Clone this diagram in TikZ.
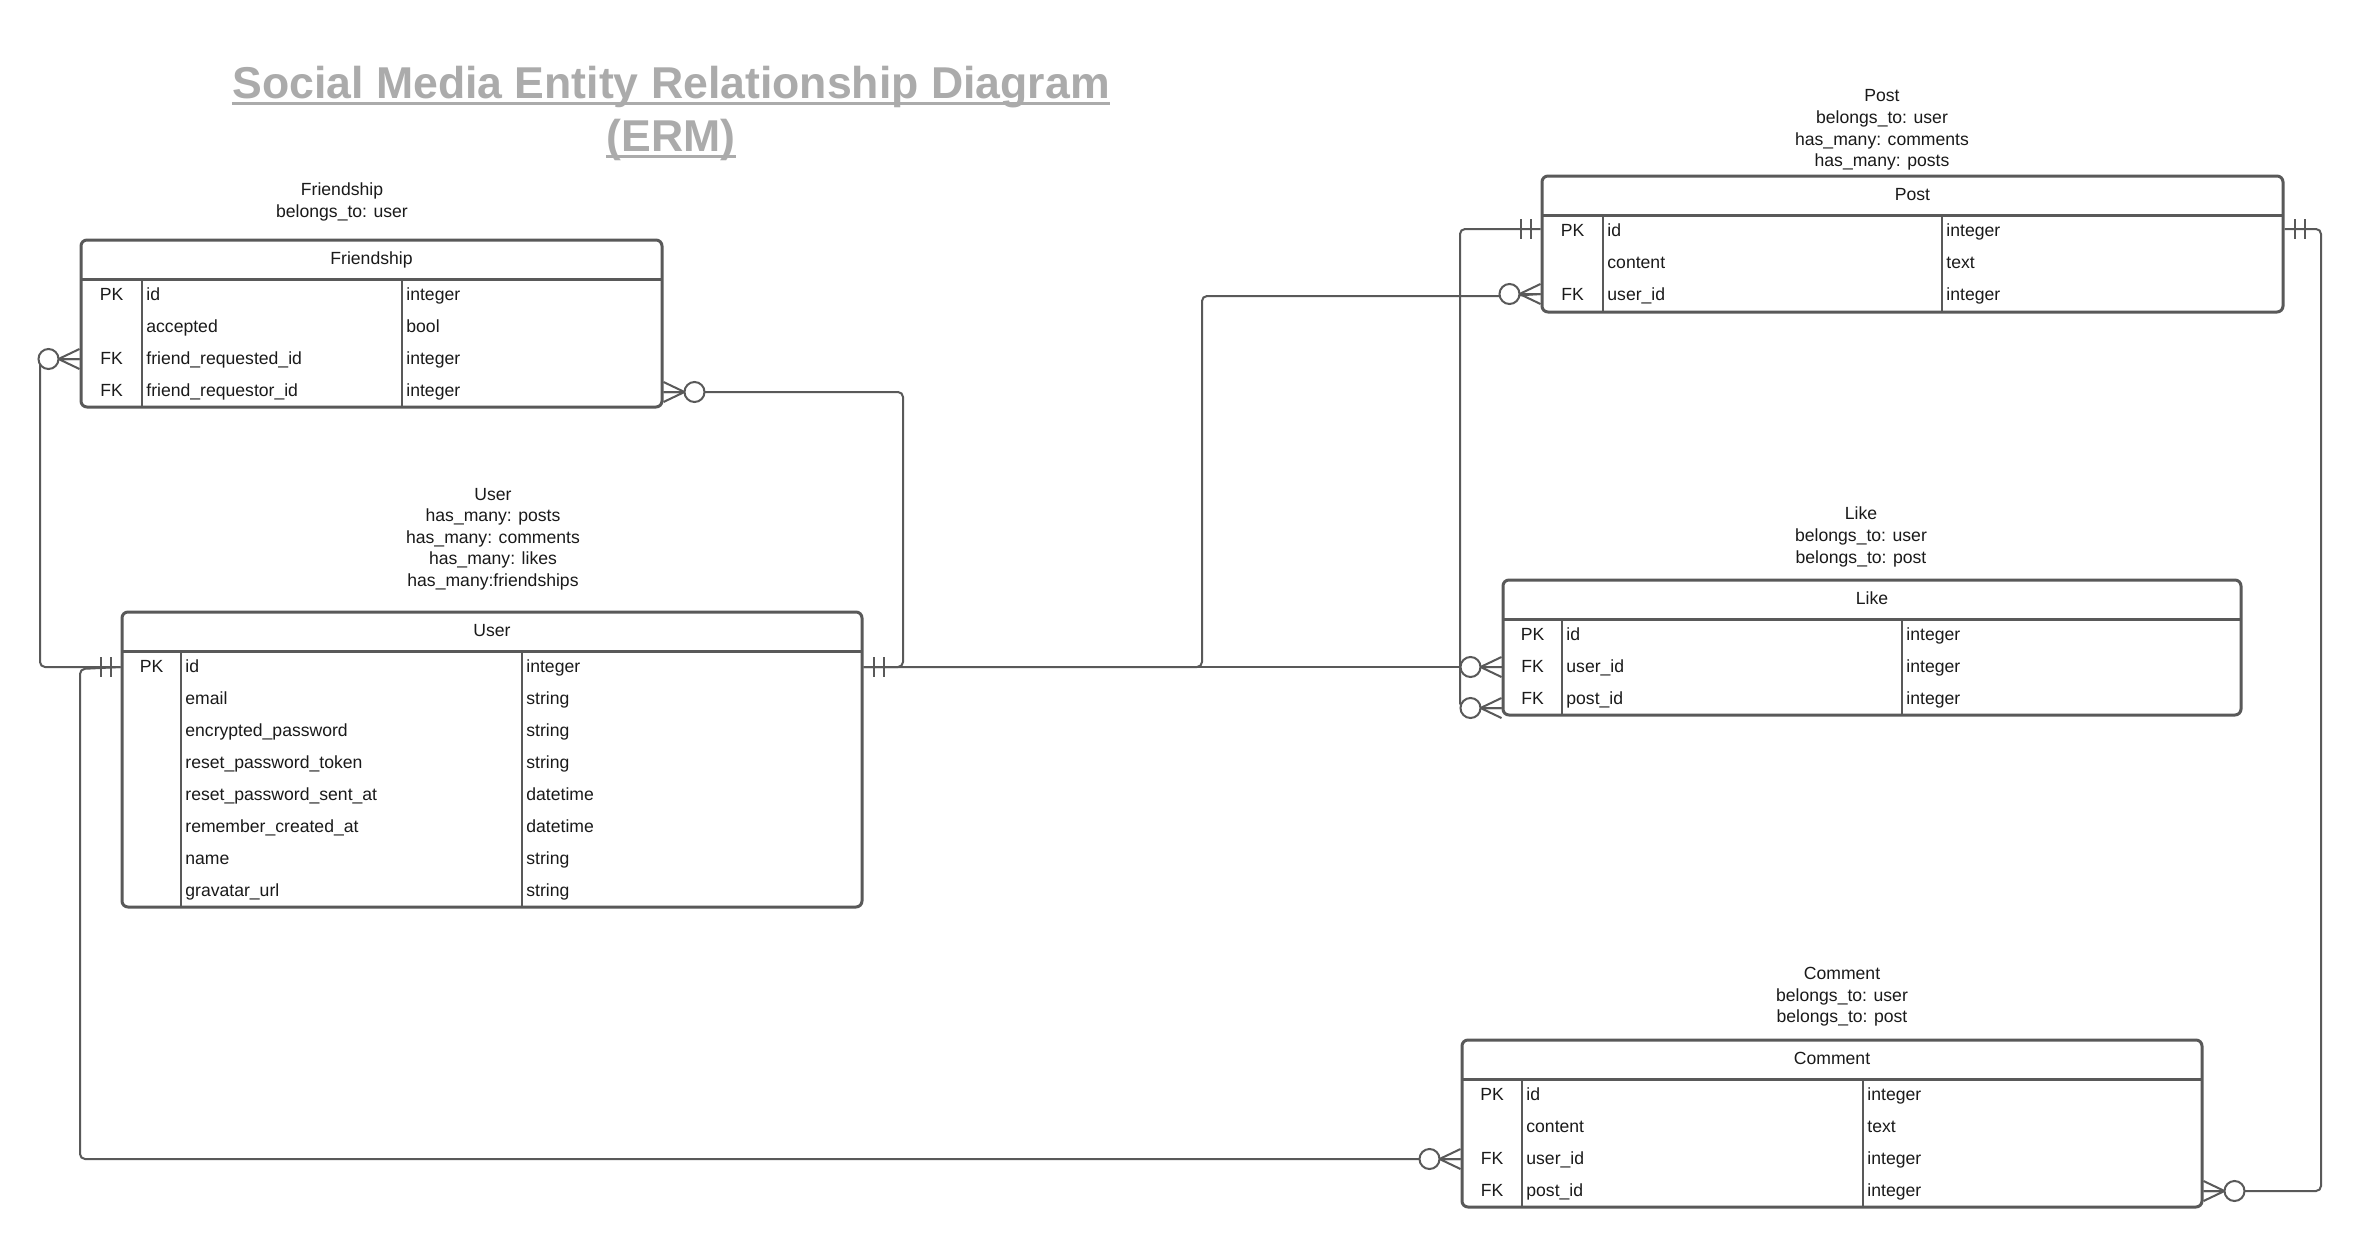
\documentclass[tikz,border=0pt]{standalone}
\usepackage{fontspec}
\setmainfont{Liberation Sans}
\definecolor{lc}{HTML}{595959}
\definecolor{tc}{HTML}{1A1A1A}
\definecolor{ttl}{HTML}{ABABAB}
\tikzset{
  tbl/.style={draw=lc, line width=1.5pt, rounded corners=3pt, inner sep=0pt, fill=white},
  sep/.style={draw=lc, line width=1.5pt},
  div/.style={draw=lc, line width=1.1pt},
  conn/.style={draw=lc, line width=1pt},
  cell/.style={font=\fontsize{8.8}{10}\selectfont, text=tc, inner sep=0pt},
  lbl/.style={font=\fontsize{8.8}{10.8}\selectfont, text=tc, inner sep=0pt, align=center},
  zmany/.pic={\draw[conn] (0,-10) -- (21,0) -- (0,10) (0,0) -- (21,0);
              \draw[conn, fill=white] (31,0) circle[radius=10];},
  onlyone/.pic={\draw[conn] (10,-10) -- (10,10) (20,-10) -- (20,10);}
}
\begin{document}
\begin{tikzpicture}[x=0.5pt,y=-0.5pt]
\useasboundingbox[fill=white] (0,0) rectangle (2363,1248);

% ---------- title ----------
\node[anchor=base, font=\fontsize{22.3}{27}\selectfont\bfseries, text=ttl, inner sep=0pt] (title1) at (671,98) {Social Media Entity Relationship Diagram};
\node[anchor=base, font=\fontsize{22.3}{27}\selectfont\bfseries, text=ttl, inner sep=0pt] (title2) at (671,151) {(ERM)};
\draw[ttl, line width=1.5pt] ([yshift=-2.7pt]title1.base west) -- ([yshift=-2.7pt]title1.base east);
\draw[ttl, line width=1.5pt] ([yshift=-2.7pt]title2.base west) -- ([yshift=-2.7pt]title2.base east);

% ---------- labels ----------
\node[lbl] (fsLabel) at (342,202) {Friendship\\belongs\_to: user};
\node[lbl] (uLabel) at (493,539) {User\\has\_many: posts\\has\_many: comments\\has\_many: likes\\has\_many:friendships};
\node[lbl] (pLabel) at (1882,130) {Post\\belongs\_to: user\\has\_many: comments\\has\_many: posts};
\node[lbl] (lLabel) at (1861,537) {Like\\belongs\_to: user\\belongs\_to: post};
\node[lbl] (cLabel) at (1842,997) {Comment\\belongs\_to: user\\belongs\_to: post};

% ---------- Friendship ----------
\node[tbl, minimum width=290.5pt, minimum height=83.5pt] (friendship) at (371.5,323.5) {};
\node[cell, anchor=mid] (fsHead) at (371.5,259.5) {Friendship};
\draw[sep] (81,279) -- (662,279);
\draw[div] (142,279) -- (142,407) (402,279) -- (402,407);
\foreach \k/\n/\t [count=\i from 0] in {PK/id/integer, /accepted/bool, FK/friend\_requested\_id/integer, FK/friend\_requestor\_id/integer}{
  \node[cell, anchor=mid] (fsK\i) at (111.5,295+32*\i) {\k};
  \node[cell, anchor=mid west] (fsN\i) at (146,295+32*\i) {\n};
  \node[cell, anchor=mid west] (fsT\i) at (406,295+32*\i) {\t};
}

% ---------- User ----------
\node[tbl, minimum width=370pt, minimum height=147.5pt] (user) at (492,759.5) {};
\node[cell, anchor=mid] (uHead) at (492,631.5) {User};
\draw[sep] (122,651) -- (862,651);
\draw[div] (181,651) -- (181,907) (522,651) -- (522,907);
\foreach \k/\n/\t [count=\i from 0] in {PK/id/integer, /email/string, /encrypted\_password/string, /reset\_password\_token/string, /reset\_password\_sent\_at/datetime, /remember\_created\_at/datetime, /name/string, /gravatar\_url/string}{
  \node[cell, anchor=mid] (uK\i) at (151.5,667+32*\i) {\k};
  \node[cell, anchor=mid west] (uN\i) at (185,667+32*\i) {\n};
  \node[cell, anchor=mid west] (uT\i) at (526,667+32*\i) {\t};
}

% ---------- Post ----------
\node[tbl, minimum width=370.5pt, minimum height=68pt] (post) at (1912.5,244) {};
\node[cell, anchor=mid] (pHead) at (1912.5,195.5) {Post};
\draw[sep] (1542,215) -- (2283,215);
\draw[div] (1603,215) -- (1603,312) (1942,215) -- (1942,312);
\foreach \k/\n/\t [count=\i from 0] in {PK/id/integer, /content/text, FK/user\_id/integer}{
  \node[cell, anchor=mid] (pK\i) at (1572.5,231+32*\i) {\k};
  \node[cell, anchor=mid west] (pN\i) at (1607,231+32*\i) {\n};
  \node[cell, anchor=mid west] (pT\i) at (1946,231+32*\i) {\t};
}

% ---------- Like ----------
\node[tbl, minimum width=369pt, minimum height=67.5pt] (like) at (1872,647.5) {};
\node[cell, anchor=mid] (lHead) at (1872,599.5) {Like};
\draw[sep] (1503,619) -- (2241,619);
\draw[div] (1562,619) -- (1562,715) (1902,619) -- (1902,715);
\foreach \k/\n/\t [count=\i from 0] in {PK/id/integer, FK/user\_id/integer, FK/post\_id/integer}{
  \node[cell, anchor=mid] (lK\i) at (1532.5,635+32*\i) {\k};
  \node[cell, anchor=mid west] (lN\i) at (1566,635+32*\i) {\n};
  \node[cell, anchor=mid west] (lT\i) at (1906,635+32*\i) {\t};
}

% ---------- Comment ----------
\node[tbl, minimum width=370pt, minimum height=83.5pt] (comment) at (1832,1123.5) {};
\node[cell, anchor=mid] (cHead) at (1832,1059.5) {Comment};
\draw[sep] (1462,1079) -- (2202,1079);
\draw[div] (1522,1079) -- (1522,1207) (1863,1079) -- (1863,1207);
\foreach \k/\n/\t [count=\i from 0] in {PK/id/integer, /content/text, FK/user\_id/integer, FK/post\_id/integer}{
  \node[cell, anchor=mid] (cK\i) at (1492,1095+32*\i) {\k};
  \node[cell, anchor=mid west] (cN\i) at (1526,1095+32*\i) {\n};
  \node[cell, anchor=mid west] (cT\i) at (1867,1095+32*\i) {\t};
}

% ---------- attachment points ----------
\coordinate (fsReqL) at (friendship.west |- 0,359);
\coordinate (fsReqrR) at (friendship.east |- 0,392);
\coordinate (uIdL) at (user.west |- 0,667);
\coordinate (uIdR) at (user.east |- 0,667);
\coordinate (pIdL) at (post.west |- 0,229);
\coordinate (pIdR) at (post.east |- 0,229);
\coordinate (pUserL) at (post.west |- 0,294);
\coordinate (lUserL) at (like.west |- 0,667);
\coordinate (lPostL) at (like.west |- 0,708);
\coordinate (cUserL) at (comment.west |- 0,1159);
\coordinate (cPostR) at (comment.east |- 0,1191);

% ---------- connectors ----------
\begin{scope}[rounded corners=2.5pt]
\draw[conn] (fsReqL) -- (40,359) -- (40,667) -- (uIdL);
\draw[conn] (uIdL) -- (80,669) -- (80,1159) -- (cUserL);
\draw[conn] (fsReqrR) -- (903,392) -- (903,667) -- (uIdR);
\draw[conn] (uIdR) -- (1202,667) -- (1202,296) -- (1510,296) -- (pUserL);
\draw[conn] (uIdR) -- (lUserL);
\draw[conn] (pIdL) -- (1460,229) -- (1460,708) -- (lPostL);
\draw[conn] (pIdR) -- (2321,229) -- (2321,1191) -- (cPostR);
\end{scope}

% ---------- cardinality marks ----------
\path (fsReqL) pic[xscale=-1] {zmany};
\path (fsReqrR) pic {zmany};
\path (uIdL) pic[xscale=-1] {onlyone};
\path (uIdR) pic {onlyone};
\path (pIdL) pic[xscale=-1] {onlyone};
\path (pIdR) pic {onlyone};
\path (pUserL) pic[xscale=-1] {zmany};
\path (lUserL) pic[xscale=-1] {zmany};
\path (lPostL) pic[xscale=-1] {zmany};
\path (cUserL) pic[xscale=-1] {zmany};
\path (cPostR) pic {zmany};
\end{tikzpicture}
\end{document}
